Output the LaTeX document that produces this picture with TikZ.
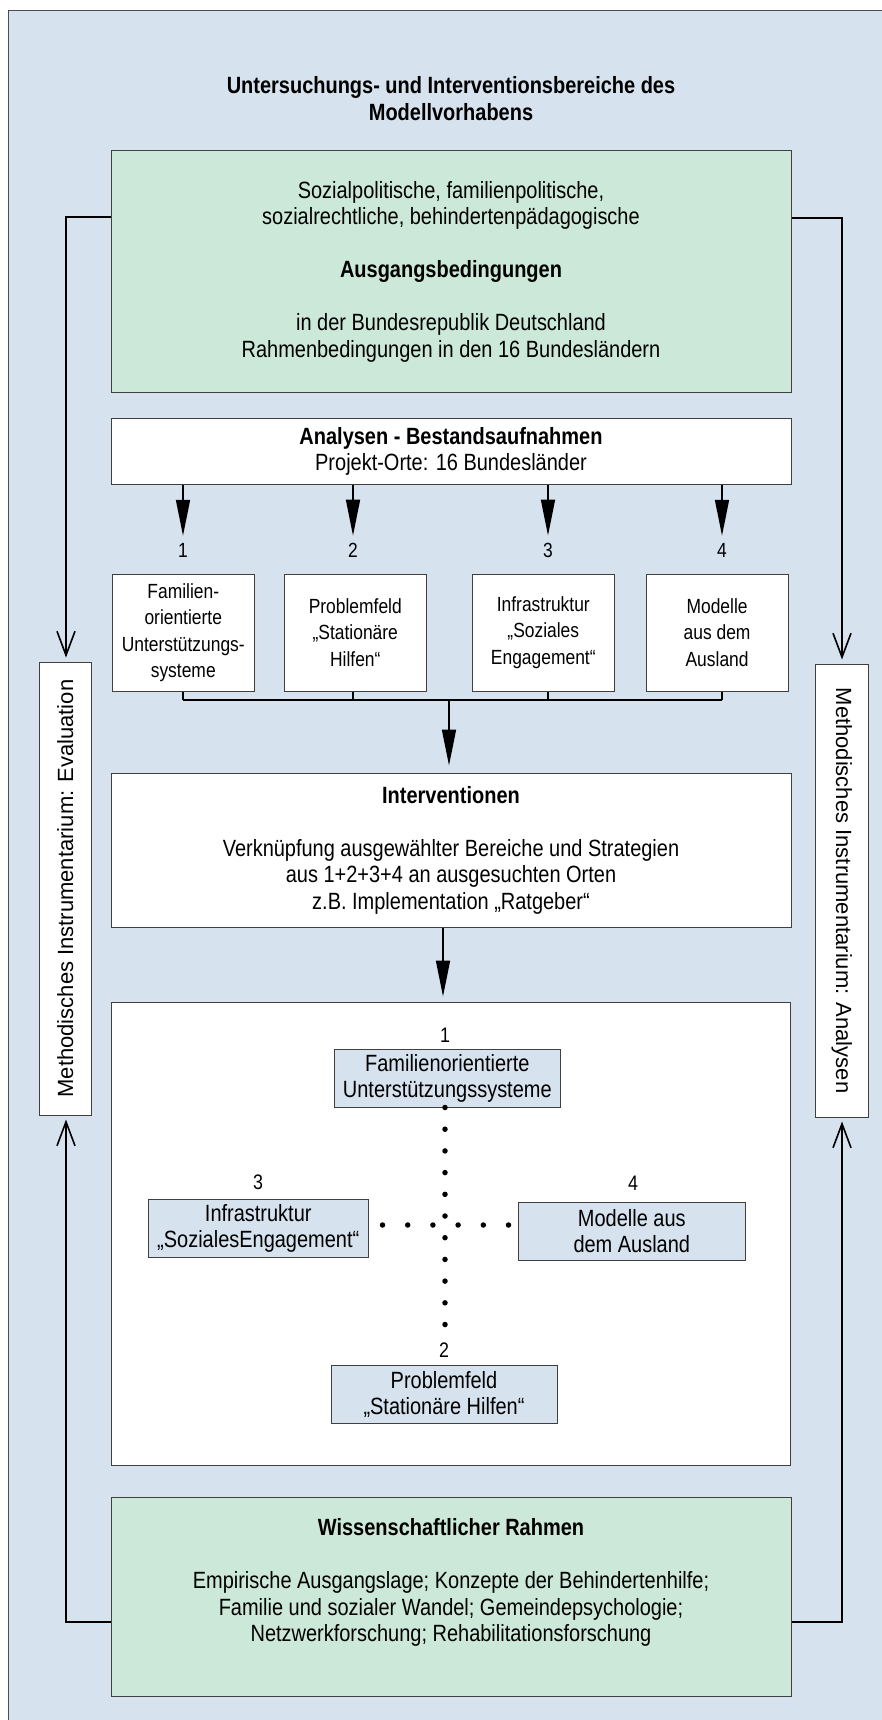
\documentclass[tikz,border=0pt]{standalone}
\usepackage{fontspec}
\setmainfont[FakeStretch=0.85]{Liberation Sans}
\newfontfamily\sidefont{Liberation Sans}
\usetikzlibrary{arrows.meta}
\definecolor{bgblue}{RGB}{214,226,238}
\definecolor{boxgreen}{RGB}{204,232,216}

\begin{document}
\begin{tikzpicture}[x=1pt,y=-1pt,
  box/.style={draw=black!75, line width=1pt, rectangle, align=center, inner sep=0pt, font=\fontsize{23.5}{26.5}\selectfont},
  widebox/.style={box, minimum width=680pt},
  smallbox/.style={box, fill=white, minimum width=142pt, minimum height=117pt, font=\fontsize{20.5}{26.5}\selectfont},
  innerbox/.style={box, fill=bgblue, minimum height=58pt, font=\fontsize{23.5}{26}\selectfont},
  sidebox/.style={box, fill=white, minimum width=453pt, minimum height=52.5pt, font=\sidefont\fontsize{22}{26}\selectfont},
  num/.style={inner sep=0pt, font=\fontsize{20.5}{24}\selectfont},
  bigarrow/.style={line width=1.6pt, -{Triangle[length=36pt,width=14pt]}},
  openarrow/.style={line width=1.6pt, -{Straight Barb[length=24pt,width=18pt]}},
  bus/.style={line width=2pt},
  dotline/.style={line width=5.5pt, line cap=round}
]
\useasboundingbox (0,0) rectangle (882,1720);
\fill[white] (0,0) rectangle (882,1720);
\filldraw[fill=bgblue, draw=black!70, line width=1pt] (8,10.5) rectangle (900,1740);

% title
\node[align=center, font=\bfseries\fontsize{23.5}{27}\selectfont] (title) at (451,98.5)
  {Untersuchungs- und Interventionsbereiche des\\Modellvorhabens};

% main column
\node[widebox, fill=boxgreen, minimum height=241pt] (ausgang) at (451,271.5)
  {Sozialpolitische, familienpolitische,\\sozialrechtliche, behindertenpädagogische\\[26.5pt]\textbf{Ausgangsbedingungen}\\[26.5pt]in der Bundesrepublik Deutschland\\Rahmenbedingungen in den 16 Bundesländern};
\node[widebox, fill=white, minimum height=66pt, font=\fontsize{23.5}{26}\selectfont] (ana) at (451,451)
  {\textbf{Analysen - Bestandsaufnahmen}\\Projekt-Orte: 16 Bundesländer};

\node[num] (n1) at (183,550) {1};
\node[num] (n2) at (353,550) {2};
\node[num] (n3) at (548,550) {3};
\node[num] (n4) at (722,550) {4};

\node[smallbox] (b1) at (183.25,632.5) {Familien-\\orientierte\\Unterstützungs-\\systeme};
\node[smallbox] (b2) at (355.3,632.5) {Problemfeld\\„Stationäre\\Hilfen“};
\node[smallbox] (b3) at (543.3,632.5) {Infrastruktur\\„Soziales\\Engagement“};
\node[smallbox] (b4) at (717.1,632.5) {Modelle\\aus dem\\Ausland};

\draw[bigarrow, shorten >=7pt] (ana.south -| n1) -- (n1.north);
\draw[bigarrow, shorten >=7pt] (ana.south -| n2) -- (n2.north);
\draw[bigarrow, shorten >=7pt] (ana.south -| n3) -- (n3.north);
\draw[bigarrow, shorten >=7pt] (ana.south -| n4) -- (n4.north);

\node[widebox, fill=white, minimum height=154pt] (inter) at (451,850)
  {\textbf{Interventionen}\\[26.5pt]Verknüpfung ausgewählter Bereiche und Strategien\\aus 1+2+3+4 an ausgesuchten Orten\\z.B. Implementation „Ratgeber“};

\coordinate (busc) at (449,700);
\draw[bus] (b1.south -| n1) -- (busc -| n1);
\draw[bus] (b2.south -| n2) -- (busc -| n2);
\draw[bus] (b3.south -| n3) -- (busc -| n3);
\draw[bus] (b4.south -| n4) -- (busc -| n4);
\draw[bus] (busc -| n1) -- (busc -| n4);
\draw[bigarrow, shorten >=7pt] (busc) -- (busc |- inter.north);

\node[box, fill=white, minimum width=679pt, minimum height=463pt] (big) at (450.5,1233.5) {};
\coordinate (mid) at (443,0);
\draw[bigarrow, shorten >=5pt] (inter.south -| mid) -- (big.north -| mid);

% cross inside the white box
\node[innerbox, minimum width=225.4pt] (ib1) at (447.3,1078) {Familienorientierte\\Unterstützungssysteme};
\node[innerbox, minimum width=219.5pt] (ib3) at (258.25,1228) {Infrastruktur\\„SozialesEngagement“};
\node[innerbox, minimum width=226.4pt] (ib4) at (631.8,1231) {Modelle aus\\dem Ausland};
\node[innerbox, minimum width=226pt] (ib2) at (444,1394) {Problemfeld\\„Stationäre Hilfen“};
\node[num, font=\fontsize{21}{24}\selectfont] (l1) at (445,1035) {1};
\node[num, font=\fontsize{21}{24}\selectfont] (l3) at (258,1182) {3};
\node[num, font=\fontsize{21}{24}\selectfont] (l4) at (633,1183) {4};
\node[num, font=\fontsize{21}{24}\selectfont] (l2) at (444,1350) {2};

\coordinate (cross) at (445,1225);
\draw[dotline, dash pattern=on 0pt off 21.7pt] (cross |- ib1.south) -- (cross |- l2.north);
\draw[dotline, dash pattern=on 0pt off 25.2pt, shorten <=14pt, shorten >=8pt] (ib3.east |- cross) -- (ib4.west |- cross);

\node[widebox, fill=boxgreen, minimum height=199pt] (rahmen) at (451,1596.5)
  {\textbf{Wissenschaftlicher Rahmen}\\[27pt]Empirische Ausgangslage; Konzepte der Behindertenhilfe;\\Familie und sozialer Wandel; Gemeindepsychologie;\\Netzwerkforschung; Rehabilitationsforschung\\[6.5pt]~};

% side columns
\node[sidebox, rotate=90] (evalbox) at (65.25,888.5) {Methodisches Instrumentarium: Evaluation};
\node[sidebox, rotate=-90] (anabox) at (841.75,890.5) {Methodisches Instrumentarium: Analysen};

\coordinate (lt) at (66,217);
\coordinate (rt) at (842,218);
\coordinate (lb) at (66,1622);
\coordinate (rb) at (842,1622);
\draw[openarrow, shorten >=4pt] (ausgang.west |- lt) -- (lt) -- (lt |- evalbox.east);
\draw[openarrow, shorten >=4pt] (ausgang.east |- rt) -- (rt) -- (rt |- anabox.west);
\draw[openarrow, shorten >=4pt] (rahmen.west |- lb) -- (lb) -- (lb |- evalbox.west);
\draw[openarrow, shorten >=4pt] (rahmen.east |- rb) -- (rb) -- (rb |- anabox.east);
\end{tikzpicture}
\end{document}
